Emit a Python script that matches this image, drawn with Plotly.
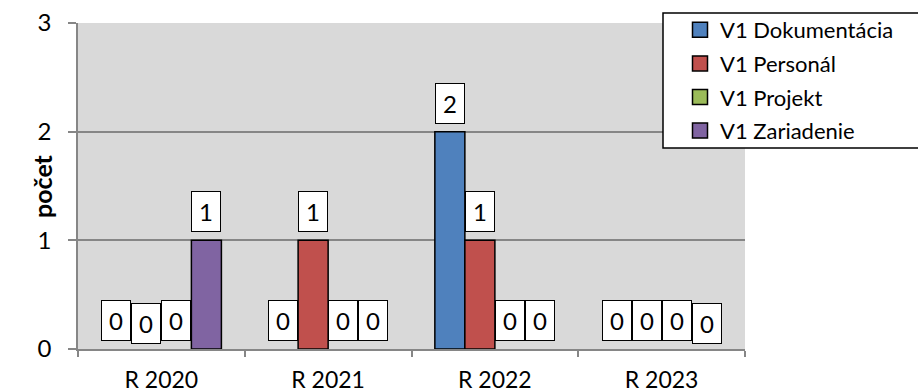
import plotly.graph_objects as go

# Counts per year for each V1 category
years = ["R 2020", "R 2021", "R 2022", "R 2023"]
series_names = ["V1 Dokumentácia", "V1 Personál", "V1 Projekt", "V1 Zariadenie"]
dokumentacia = [0, 0, 2, 0]
personal = [0, 1, 1, 0]
projekt = [0, 0, 0, 0]
zariadenie = [1, 0, 0, 0]
colors = ["#4F81BD", "#C0504D", "#9BBB59", "#8064A2"]
y_title = "počet"

series_values = [dokumentacia, personal, projekt, zariadenie]

W, H = 918, 392
L, R, T, B = 78, 173, 23, 43
FONT = "Lato"

BARGAP = 0.28
n_series = len(series_values)
bar_w = (1 - BARGAP) / n_series

fig = go.Figure()
for k, (name, vals, col) in enumerate(zip(series_names, series_values, colors)):
    fig.add_trace(go.Bar(
        x=years, y=vals, name=name, showlegend=False,
        marker=dict(color=col,
                    line=dict(color="black", width=[1.5 if v else 0 for v in vals])),
    ))
    # square swatch for the legend
    fig.add_trace(go.Scatter(
        x=[None], y=[None], name=name, mode="markers", legendgroup=f"g{k}",
        marker=dict(symbol="square", size=15, color=col,
                    line=dict(color="black", width=1.5)),
    ))

# value labels in white boxes above each bar
nudge = {(1, 0): -3, (3, 3): -3}
for j, vals in enumerate(series_values):
    for i, v in enumerate(vals):
        fig.add_annotation(
            x=i + (j - (n_series - 1) / 2) * bar_w, y=v,
            xref="x", yref="y",
            text=str(v), showarrow=False,
            yanchor="bottom", yshift=8 + nudge.get((j, i), 0),
            font=dict(family=FONT, size=24, color="black"),
            bgcolor="white", bordercolor="black", borderwidth=1,
            borderpad=3, width=22, height=33,
        )

pw, ph = W - L - R, H - T - B

# rotated axis title, placed close to the tick labels
fig.add_annotation(
    text=f"<b>{y_title}</b>", textangle=-90, showarrow=False,
    xref="paper", yref="paper", x=(42 - L) / pw, y=0.5,
    xanchor="center", yanchor="middle",
    font=dict(family=FONT, size=25, color="black"),
)

# legend frame
fig.add_shape(
    type="rect", xref="paper", yref="paper",
    x0=(663 - L) / pw, x1=(925 - L) / pw,
    y0=(H - B - 148) / ph, y1=(H - B - 13) / ph,
    fillcolor="white", line=dict(color="black", width=1.5), layer="above",
)

fig.update_layout(
    width=W, height=H,
    margin=dict(l=L, r=R, t=T, b=B, pad=0, autoexpand=False),
    paper_bgcolor="white", plot_bgcolor="#D9D9D9",
    barmode="group", bargap=BARGAP, bargroupgap=0,
    font=dict(family=FONT, size=23, color="black"),
    showlegend=True,
    legend=dict(
        xref="container", yref="container",
        x=680 / W, y=1 - 9 / H, xanchor="left", yanchor="top",
        bgcolor="rgba(0,0,0,0)", borderwidth=0,
        font=dict(family=FONT, size=22, color="black"),
        tracegroupgap=2, itemwidth=30,
    ),
    xaxis=dict(
        type="category", tickson="boundaries",
        ticks="outside", ticklen=6, tickcolor="#868686", tickwidth=1.5,
        showline=True, linecolor="#868686", linewidth=1.5,
        showgrid=False, tickfont=dict(size=23), ticklabelstandoff=10,
    ),
    yaxis=dict(
        range=[0, 3], dtick=1,
        ticks="outside", ticklen=8, tickcolor="#868686", tickwidth=1.5,
        showline=True, linecolor="#868686", linewidth=1.5,
        showgrid=True, gridcolor="#868686", gridwidth=1.5,
        zeroline=False, tickfont=dict(size=24), ticklabelstandoff=12,
    ),
)

fig.write_html("out.html")
